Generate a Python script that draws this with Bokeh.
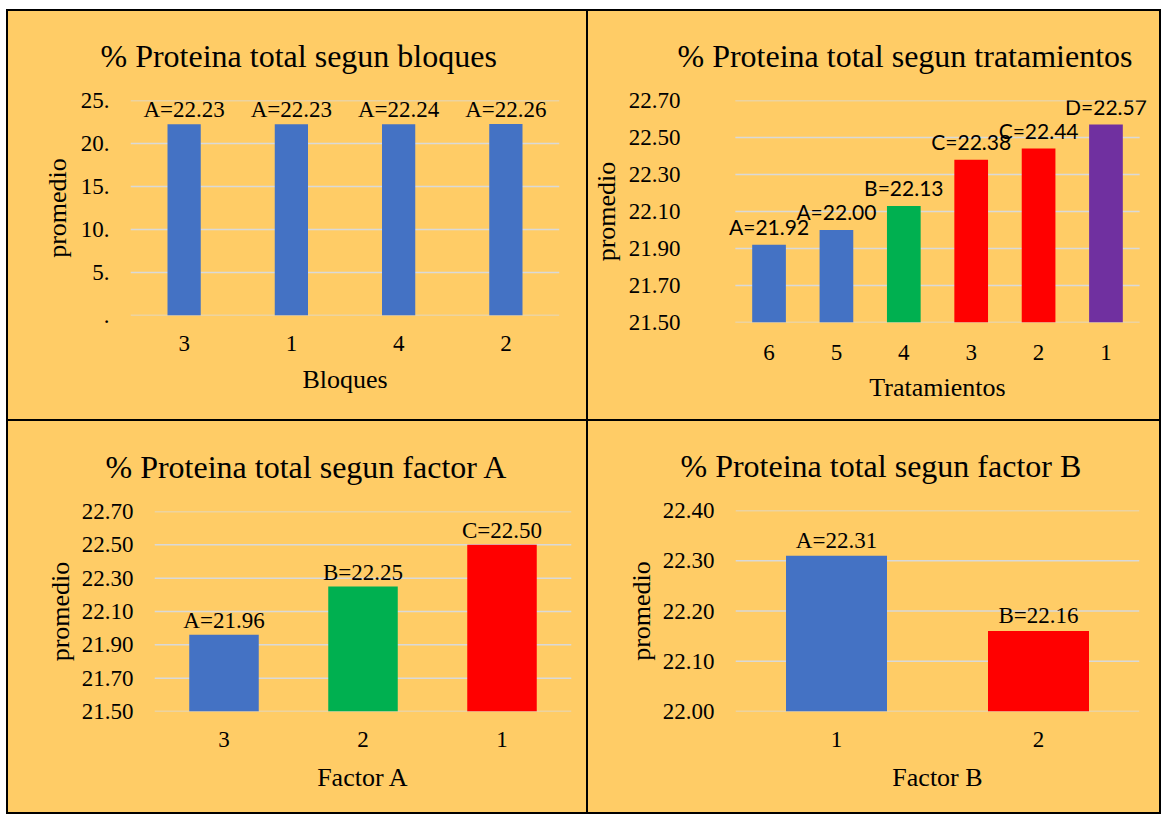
from bokeh.plotting import figure
from bokeh.layouts import row, column
from bokeh.models import (Range1d, FactorRange, FixedTicker, ColumnDataSource,
                          LabelSet)
from bokeh.core.properties import value
from bokeh.embed import file_html
from bokeh.resources import INLINE

BG = "#FFCC66"
BLUE = "#4472C4"
GREEN = "#00B050"
RED = "#FF0000"
PURPLE = "#7030A0"
GRID = "#D9D9D9"
SERIF = "Liberation Serif"

# ---- data ----
bloques_cats = ["3", "1", "4", "2"]
bloques_vals = [22.23, 22.23, 22.24, 22.26]
bloques_letters = ["A", "A", "A", "A"]
bloques_colors = [BLUE, BLUE, BLUE, BLUE]
bloques_ticks = [0, 5, 10, 15, 20, 25]
bloques_tick_labels = [".", "5.", "10.", "15.", "20.", "25."]

trat_cats = ["6", "5", "4", "3", "2", "1"]
trat_vals = [21.92, 22.00, 22.13, 22.38, 22.44, 22.57]
trat_letters = ["A", "A", "B", "C", "C", "D"]
trat_colors = [BLUE, BLUE, GREEN, RED, RED, PURPLE]
trat_ticks = [21.5, 21.7, 21.9, 22.1, 22.3, 22.5, 22.7]
trat_tick_labels = ["21.50", "21.70", "21.90", "22.10", "22.30", "22.50", "22.70"]

fa_cats = ["3", "2", "1"]
fa_vals = [21.96, 22.25, 22.50]
fa_letters = ["A", "B", "C"]
fa_colors = [BLUE, GREEN, RED]
fa_ticks = [21.5, 21.7, 21.9, 22.1, 22.3, 22.5, 22.7]
fa_tick_labels = ["21.50", "21.70", "21.90", "22.10", "22.30", "22.50", "22.70"]

fb_cats = ["1", "2"]
fb_vals = [22.31, 22.16]
fb_letters = ["A", "B"]
fb_colors = [BLUE, RED]
fb_ticks = [22.0, 22.1, 22.2, 22.3, 22.4]
fb_tick_labels = ["22.00", "22.10", "22.20", "22.30", "22.40"]


def panel(title, xlabel, cats, vals, letters, colors, ticks, tick_labels,
          width, height, borders, bar_w, title_offset, title_standoff,
          xstand, xlab_stand, ystand, ylab_stand, lab_font, lab_size, lab_off, pad):
    left, right, top, bottom = borders
    p = figure(width=width, height=height,
               x_range=FactorRange(*cats, range_padding=pad,
                                   range_padding_units="absolute"),
               y_range=Range1d(ticks[0], ticks[-1]), output_backend="svg",
               toolbar_location=None, min_border_left=left, min_border_right=right,
               min_border_top=top, min_border_bottom=bottom,
               styles={"background-color": BG})
    p.background_fill_color = None
    p.border_fill_color = None
    p.outline_line_color = None

    xax = p.below[0]
    yax = p.left[0]

    p.title.text = title
    p.title.text_font = SERIF
    p.title.text_font_size = "32px"
    p.title.text_font_style = "normal"
    p.title.text_color = "black"
    p.title.align = "left"
    p.title.vertical_align = "top"
    p.title.offset = title_offset
    p.title.standoff = title_standoff

    # horizontal gridlines across the category span
    gsrc = ColumnDataSource(dict(y=ticks))
    p.segment(x0=0, x1=len(cats), y0="y", y1="y", source=gsrc,
              line_color=GRID, line_width=1.5)

    src = ColumnDataSource(dict(
        x=cats, top=vals, color=colors,
        text=[f"{l}={v:.2f}" for l, v in zip(letters, vals)]))
    p.vbar(x="x", top="top", bottom=ticks[0], width=bar_w, color="color",
           line_color=None, source=src)
    p.add_layout(LabelSet(x="x", y="top", text="text", source=src,
                          text_align="center", text_baseline="alphabetic",
                          y_offset=lab_off, text_font=value(lab_font),
                          text_font_size=value(lab_size), text_color="black"))

    p.xgrid.grid_line_color = None
    p.ygrid.grid_line_color = None
    yax.ticker = FixedTicker(ticks=ticks)
    yax.major_label_overrides = dict(zip(ticks, tick_labels))

    for ax in (xax, yax):
        ax.axis_line_color = None
        ax.major_tick_line_color = None
        ax.minor_tick_line_color = None
        ax.major_tick_out = 0
        ax.major_tick_in = 0
        ax.major_label_text_font = SERIF
        ax.major_label_text_font_size = "23px"
        ax.major_label_text_color = "black"
        ax.axis_label_text_font = SERIF
        ax.axis_label_text_font_size = "26px"
        ax.axis_label_text_font_style = "normal"
        ax.axis_label_text_color = "black"

    xax.axis_label = xlabel
    xax.major_label_standoff = xstand
    xax.axis_label_standoff = xlab_stand
    yax.axis_label = "promedio"
    yax.major_label_standoff = ystand
    yax.axis_label_standoff = ylab_stand
    return p


p1 = panel("% Proteina total segun bloques", "Bloques", bloques_cats, bloques_vals,
           bloques_letters, bloques_colors, bloques_ticks, bloques_tick_labels,
           578, 408, (122, 27, 89, 104), 0.31, -30, 49, 20, 11, 21, 6,
           SERIF, "23px", 7, 0)
p2 = panel("% Proteina total segun tratamientos", "Tratamientos", trat_cats, trat_vals,
           trat_letters, trat_colors, trat_ticks, trat_tick_labels,
           571, 408, (117, 3, 89, 97), 0.5, -41, 49, 22, 10, 38, 5,
           "Lato", "21px", 10, 0.25)
p3 = panel("% Proteina total segun factor A", "Factor A", fa_cats, fa_vals,
           fa_letters, fa_colors, fa_ticks, fa_tick_labels,
           578, 391, (146, 15, 90, 101), 0.5, -49, 50, 20, 13, 21, 4,
           SERIF, "23px", 7, 0)
p4 = panel("% Proteina total segun factor B", "Factor B", fb_cats, fb_vals,
           fb_letters, fb_colors, fb_ticks, fb_tick_labels,
           571, 391, (147, 20, 89, 101), 0.5, -55, 49, 20, 13, 21, 4,
           SERIF, "23px", 8, 0)

layout = column(row(column(p1), column(p2), spacing=2),
                row(column(p3), column(p4), spacing=2), spacing=2,
                styles={"background-color": "black", "padding": "2px",
                        "margin-left": "6px", "margin-top": "9px"})

open("out.html", "w").write(file_html(layout, INLINE))
